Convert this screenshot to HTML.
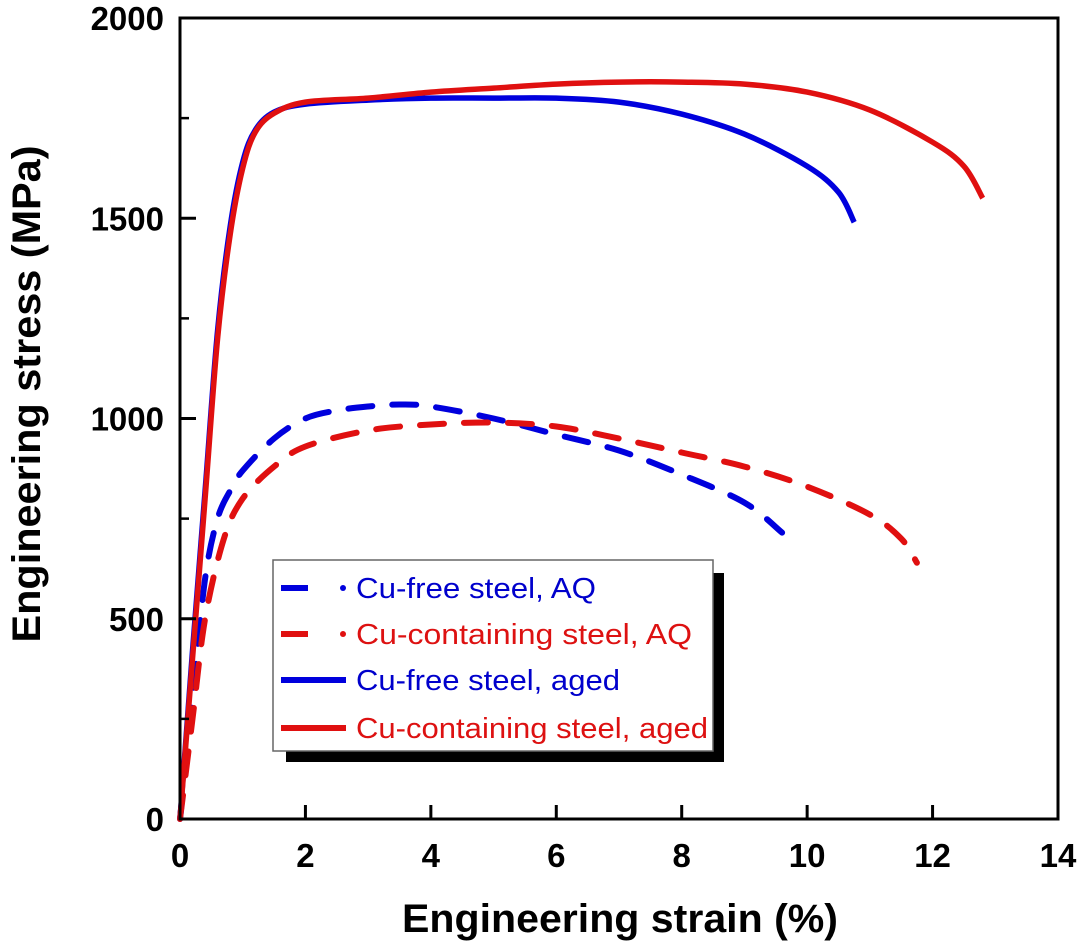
<!DOCTYPE html>
<html><head><meta charset="utf-8"><style>
body{margin:0;background:#fff;}
svg{display:block;font-family:"Liberation Sans",Arial,sans-serif;}
</style></head><body>
<svg id="chart" width="1080" height="946" viewBox="0 0 1080 946">
<rect x="0" y="0" width="1080" height="946" fill="#fff"/>
<g id="series"></g>
<rect x="180" y="18" width="878" height="801" fill="none" stroke="#000" stroke-width="3"/>
<g id="axes"></g>
<text x="620" y="932" font-size="40" font-weight="bold" text-anchor="middle" textLength="436" lengthAdjust="spacingAndGlyphs">Engineering strain (%)</text>
<text transform="translate(40,394) rotate(-90)" font-size="40" font-weight="bold" text-anchor="middle" textLength="497" lengthAdjust="spacingAndGlyphs">Engineering stress (MPa)</text>
<g>
<rect x="286" y="573" width="438" height="189" fill="#000"/>
<rect x="273" y="560" width="440" height="191" fill="#fff" stroke="#666" stroke-width="1.5"/>
<g>
<line x1="281" y1="588" x2="308" y2="588" stroke="#0000dd" stroke-width="6"/><circle cx="343" cy="588" r="3" fill="#0000dd"/>
<text x="356" y="598" font-size="29" fill="#0000cc" textLength="240" lengthAdjust="spacingAndGlyphs">Cu-free steel, AQ</text></g>
<g>
<line x1="281" y1="634" x2="308" y2="634" stroke="#e01010" stroke-width="6"/><circle cx="343" cy="634" r="3" fill="#e01010"/>
<text x="356" y="644" font-size="29" fill="#dd1111" textLength="336" lengthAdjust="spacingAndGlyphs">Cu-containing steel, AQ</text></g>
<g>
<line x1="281" y1="680" x2="346" y2="680" stroke="#0000dd" stroke-width="6"/>
<text x="356" y="690" font-size="29" fill="#0000cc" textLength="264" lengthAdjust="spacingAndGlyphs">Cu-free steel, aged</text></g>
<g>
<line x1="281" y1="728" x2="346" y2="728" stroke="#e01010" stroke-width="6"/>
<text x="356" y="738" font-size="29" fill="#dd1111" textLength="352" lengthAdjust="spacingAndGlyphs">Cu-containing steel, aged</text></g>
</g>
</svg>
<script>
const xTicks=[0,2,4,6,8,10,12,14];
const yTicks=[0,500,1000,1500,2000];
const yMinor=[250,750,1250,1750];
const cufreeAQx=[0,0.2,0.4,0.6,0.8,1,1.5,2,2.5,3,3.5,4,5,6,7,8,9,9.6];
const cufreeAQy=[0,300,600,750,820,870,950,1000,1020,1030,1035,1030,1000,960,920,860,790,715];
const cucontAQx=[0,0.2,0.4,0.7,1,1.5,2,3,4,5,6,7,8,9,10,11,11.5,11.75];
const cucontAQy=[0,250,500,700,800,880,930,970,985,990,980,950,915,880,830,760,700,640];
const cufreeAgedx=[0,0.2,0.4,0.6,0.8,1,1.2,1.5,2,3,4,5,6,7,8,9,10,10.5,10.75];
const cufreeAgedy=[0,420,820,1220,1480,1640,1720,1765,1785,1795,1800,1800,1800,1790,1760,1710,1630,1565,1490];
const cucontAgedx=[0,0.2,0.4,0.6,0.8,1,1.2,1.5,2,3,4,5,6,7,8,9,10,11,12,12.5,12.8];
const cucontAgedy=[0,400,800,1200,1460,1625,1715,1762,1790,1800,1815,1825,1835,1840,1840,1835,1815,1770,1690,1630,1550];
const X=v=>180+v*878/14;
const Y=v=>819-v*801/2000;
const NS='http://www.w3.org/2000/svg';
const axes=document.getElementById('axes');
const series=document.getElementById('series');
function mk(tag,attrs,parent){const e=document.createElementNS(NS,tag);for(const k in attrs)e.setAttribute(k,attrs[k]);parent.appendChild(e);return e;}
xTicks.forEach(t=>{
  const l=mk('line',{x1:X(t),x2:X(t),y1:819,y2:805,stroke:'#000','stroke-width':3},axes);
  
  
  const tx=mk('text',{x:X(t),y:867,'font-size':33,'font-weight':'bold','text-anchor':'middle'},axes);
  tx.textContent=t;
  
  
});
yTicks.forEach(t=>{
  const l=mk('line',{x1:180,x2:196,y1:Y(t),y2:Y(t),stroke:'#000','stroke-width':3},axes);
  
  
  const tx=mk('text',{x:164,y:Y(t)+12,'font-size':33,'font-weight':'bold','text-anchor':'end'},axes);
  tx.textContent=t;
  
  
});
yMinor.forEach(t=>{
  const l=mk('line',{x1:180,x2:189,y1:Y(t),y2:Y(t),stroke:'#000','stroke-width':2.5},axes);
  
  
});
function path(xs,ys,color,dash,name){
  const P=xs.map((x,i)=>[X(x),Y(ys[i])]);
  let d='M'+P[0][0].toFixed(1)+','+P[0][1].toFixed(1);
  for(let i=0;i<P.length-1;i++){
    const p0=P[Math.max(0,i-1)],p1=P[i],p2=P[i+1],p3=P[Math.min(P.length-1,i+2)];
    const c1=[p1[0]+(p2[0]-p0[0])/6,p1[1]+(p2[1]-p0[1])/6];
    const c2=[p2[0]-(p3[0]-p1[0])/6,p2[1]-(p3[1]-p1[1])/6];
    d+=' C'+c1.map(v=>v.toFixed(1)).join(',')+' '+c2.map(v=>v.toFixed(1)).join(',')+' '+p2.map(v=>v.toFixed(1)).join(',');
  }
  const p=mk('path',{d:d,fill:'none',stroke:color,'stroke-width':dash?6:5.5,'stroke-linejoin':'round','stroke-linecap':dash?'round':'butt'},series);
  if(dash)p.setAttribute('stroke-dasharray','24 20');
  
  
}
path(cufreeAQx,cufreeAQy,'#0000dd',true,'cu-free-aq-line');
path(cucontAQx,cucontAQy,'#e01010',true,'cu-containing-aq-line');
path(cufreeAgedx,cufreeAgedy,'#0000dd',false,'cu-free-aged-line');
path(cucontAgedx,cucontAgedy,'#e01010',false,'cu-containing-aged-line');
</script>
</body></html>
